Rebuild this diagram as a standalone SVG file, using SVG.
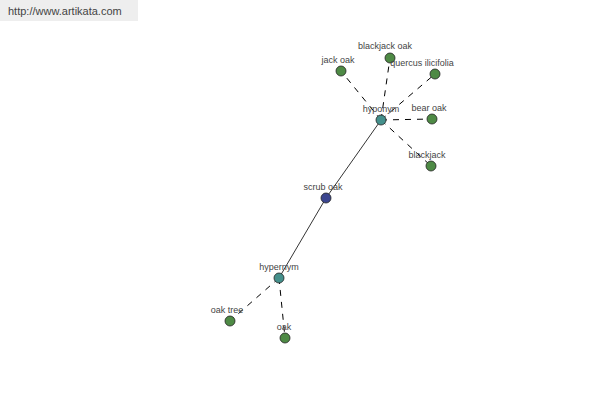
<svg xmlns="http://www.w3.org/2000/svg" width="600" height="400" viewBox="0 0 600 400">
<style>
text{font-family:"Liberation Sans",Arial,sans-serif;fill:#444;}
.lbl{font-size:9px;text-anchor:middle;}
.n{stroke:#222;stroke-width:0.8;}
.leaf{fill:#4e8a45;}
.hub{fill:#44908c;}
.main{fill:#3c4690;}
.d{stroke:#000;stroke-width:1;stroke-dasharray:6,6;fill:none;}
.s{stroke:#000;stroke-width:0.8;fill:none;}
</style>
<rect x="0" y="0" width="138" height="21" fill="#eeeeee"/>
<text x="8" y="15" font-size="11">http://www.artikata.com</text>
<g id="connectors">
<line class="s" x1="381" y1="120" x2="326" y2="198"/>
<line class="s" x1="326" y1="198" x2="279" y2="278"/>
<line class="d" x1="381" y1="120" x2="341" y2="71"/>
<line class="d" x1="381" y1="120" x2="390" y2="58"/>
<line class="d" x1="381" y1="120" x2="435" y2="74"/>
<line class="d" x1="381" y1="120" x2="432" y2="119"/>
<line class="d" x1="381" y1="120" x2="431" y2="166"/>
<line class="d" x1="279" y1="278" x2="230" y2="321"/>
<line class="d" x1="279" y1="278" x2="285" y2="338"/>
</g>
<g id="hyponym"><circle class="n hub" cx="381" cy="120" r="5"/><text class="lbl" x="381" y="112">hyponym</text></g>
<g id="scrub-oak"><circle class="n main" cx="326" cy="198" r="5"/><text class="lbl" x="323" y="190">scrub oak</text></g>
<g id="hypernym"><circle class="n hub" cx="279" cy="278" r="5"/><text class="lbl" x="279" y="270">hypernym</text></g>
<g id="jack-oak"><circle class="n leaf" cx="341" cy="71" r="5"/><text class="lbl" x="338" y="63">jack oak</text></g>
<g id="blackjack-oak"><circle class="n leaf" cx="390" cy="58" r="5"/><text class="lbl" x="385" y="49">blackjack oak</text></g>
<g id="quercus-ilicifolia"><circle class="n leaf" cx="435" cy="74" r="5"/><text class="lbl" x="422" y="66">quercus ilicifolia</text></g>
<g id="bear-oak"><circle class="n leaf" cx="432" cy="119" r="5"/><text class="lbl" x="429" y="111">bear oak</text></g>
<g id="blackjack"><circle class="n leaf" cx="431" cy="166" r="5"/><text class="lbl" x="427" y="158">blackjack</text></g>
<g id="oak-tree"><circle class="n leaf" cx="230" cy="321" r="5"/><text class="lbl" x="227" y="313">oak tree</text></g>
<g id="oak"><circle class="n leaf" cx="285" cy="338" r="5"/><text class="lbl" x="284" y="330">oak</text></g>
</svg>
